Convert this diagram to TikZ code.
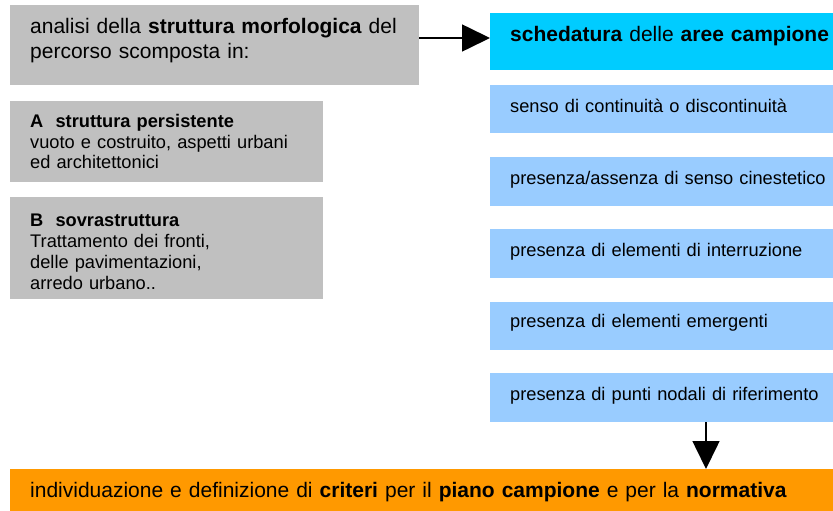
\documentclass[tikz,border=0pt]{standalone}
\usepackage{fontspec}
\setmainfont{Liberation Sans}
\usetikzlibrary{arrows.meta}
\definecolor{boxgray}{HTML}{C0C0C0}
\definecolor{boxcyan}{HTML}{00CCFF}
\definecolor{boxblue}{HTML}{99CCFF}
\definecolor{boxorange}{HTML}{FF9900}
\tikzset{
  panel/.style={anchor=north west, inner sep=0pt, outer sep=0pt, draw=none},
  bigtxt/.style={anchor=base west, inner sep=0pt, text width=#1, align=left,
    font=\fontsize{21}{24.8}\selectfont},
  smalltxt/.style={anchor=base west, inner sep=0pt, text width=#1, align=left,
    font=\fontsize{18.25}{21}\selectfont},
  bigarrow/.style={line width=1.6pt, -{Triangle[length=28pt,width=27pt]}},
}
\begin{document}
\begin{tikzpicture}[x=1pt,y=-1pt]
\useasboundingbox (0,0) rectangle (833,511);
% left gray boxes
\node[panel, fill=boxgray, minimum width=409pt, minimum height=80pt] (top) at (10,5) {};
\node[bigtxt=380pt] (toptxt) at (30,34) {analisi della \textbf{struttura morfologica} del\\percorso scomposta in:};
\node[panel, fill=boxgray, minimum width=313pt, minimum height=81pt] (boxA) at (10,101) {};
\node[smalltxt=300pt] (boxAtxt) at (30,127) {\textbf{A\ \ struttura persistente}\\vuoto e costruito, aspetti urbani\\ed architettonici};
\node[panel, fill=boxgray, minimum width=313pt, minimum height=102pt] (boxB) at (10,197) {};
\node[smalltxt=300pt] (boxBtxt) at (30,226) {\textbf{B\ \ sovrastruttura}\\Trattamento dei fronti,\\delle pavimentazioni,\\arredo urbano..};
% right column
\node[panel, fill=boxcyan, minimum width=343pt, minimum height=57pt] (sched) at (490,13) {};
\node[bigtxt=330pt] (schedtxt) at (510,42) {\textbf{schedatura} delle \textbf{aree campione}};
\node[panel, fill=boxblue, minimum width=343pt, minimum height=48pt] (b1) at (490,85) {};
\node[smalltxt=330pt] (b1txt) at (510,112) {senso di continuità o discontinuità};
\node[panel, fill=boxblue, minimum width=343pt, minimum height=49pt] (b2) at (490,157) {};
\node[smalltxt=330pt] (b2txt) at (510,184) {presenza/assenza di senso cinestetico};
\node[panel, fill=boxblue, minimum width=343pt, minimum height=49pt] (b3) at (490,229) {};
\node[smalltxt=330pt] (b3txt) at (510,256) {presenza di elementi di interruzione};
\node[panel, fill=boxblue, minimum width=343pt, minimum height=48pt] (b4) at (490,302) {};
\node[smalltxt=330pt] (b4txt) at (510,327) {presenza di elementi emergenti};
\node[panel, fill=boxblue, minimum width=343pt, minimum height=49pt] (b5) at (490,373) {};
\node[smalltxt=330pt] (b5txt) at (510,400) {presenza di punti nodali di riferimento};
% bottom bar
\node[panel, fill=boxorange, minimum width=823pt, minimum height=42pt] (crit) at (10,469) {};
\node[bigtxt=800pt] (crittxt) at (30,497) {individuazione e definizione di \textbf{criteri} per il \textbf{piano campione} e per la \textbf{normativa}};
% connectors
\coordinate (a1) at (top.east |- 0,38);
\coordinate (a2) at (sched.west |- 0,38);
\draw[bigarrow] (a1) -- (a2);
\coordinate (d1) at (706,0 |- b5.south);
\coordinate (d2) at (706,0 |- crit.north);
\draw[bigarrow] (d1) -- (d2);
\end{tikzpicture}
\end{document}
